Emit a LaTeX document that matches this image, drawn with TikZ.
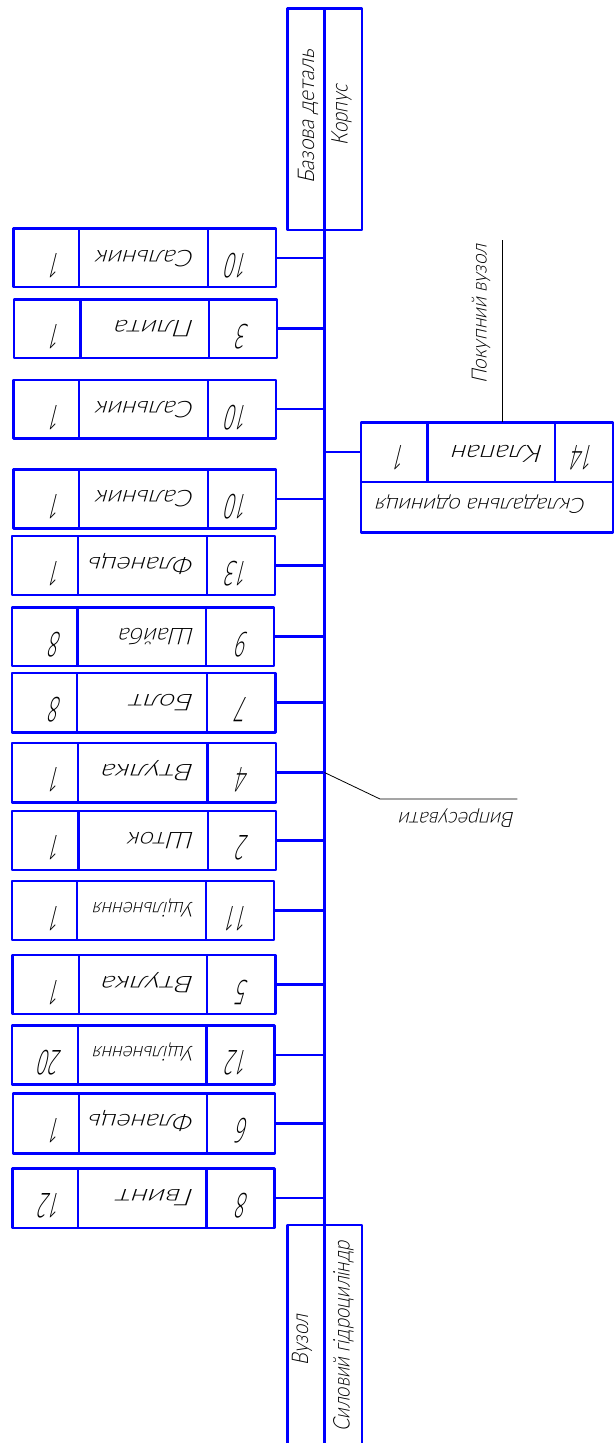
\documentclass[tikz,border=0pt]{standalone}
\usepackage{fontspec}
\usepackage{graphicx}
\IfFontExistsTF{Lato Light}
  {\newfontfamily\gostfont{Lato Light}[FakeSlant=0.25]}
  {\newfontfamily\gostfont{Liberation Sans}[FakeSlant=0.25]}
\IfFontExistsTF{Open Sans Light}
  {\newfontfamily\gostnum{Open Sans Light}[FakeSlant=0.25,FakeStretch=0.55]}
  {\newfontfamily\gostnum{Liberation Sans}[FakeSlant=0.25,FakeStretch=0.55]}
\definecolor{cadblue}{RGB}{0,0,255}
% set a text to a fixed width, keeping its height
\newcommand{\fitw}[2]{\resizebox{#1pt}{\height}{#2}}
\newcommand{\txtsz}[1]{\fontsize{#1}{#1}\selectfont}

\begin{document}
\begin{tikzpicture}[x=1pt,y=-1pt,
  cell/.style={draw=cadblue, line width=2.4pt, inner sep=0pt, outer sep=0pt, line join=round},
  link/.style={draw=cadblue, line width=2.4pt, line join=round},
  leader/.style={draw=black, line width=0.8pt},
  txt/.style={inner sep=0pt, outer sep=0pt, text=black},
  flip/.style={txt, rotate=180, anchor=base west},
  upw/.style={txt, rotate=90, anchor=base}]
\useasboundingbox (0,0) rectangle (614,1443);

% base part and the assembly axis
\node[cell, anchor=north, minimum width=74.4pt, minimum height=221.7pt] (base) at (324.5,8.3) {};
\coordinate (spine) at (324.5,0);
\coordinate (asm) at (324.5,1225);
\coordinate (asm-end) at (324.5,1443);
\draw[link] (base.north) -- (asm-end);
\node[upw] (base-t1) at (314,116.7) {\fitw{134}{\gostfont\txtsz{23}Базова деталь}};
\node[upw] (base-t2) at (347.5,115) {\fitw{60}{\gostfont\txtsz{23}Корпус}};

% finished unit at the bottom
\draw[link] (287.3,1443) -- (287.3,1225) -- (361.7,1225) -- (361.7,1443);
\node[upw] (asm-t1) at (308,1340) {\fitw{50}{\gostfont\txtsz{23}Вузол}};
\node[upw] (asm-t2) at (349.5,1336.7) {\fitw{190}{\gostfont\txtsz{23}Силовий гідроциліндр}};

% parts, top to bottom
\foreach \ky/\tp/\bt/\lf/\rt/\da/\db/\qt/\nm/\nw/\nf/\nn in {
  1/228.5/287/13.3/276/79/207.7/1/Сальник/98/23/10,
  2/299.3/357.7/14/276.7/80.3/209/1/Плита/79/23/3,
  3/380/438.3/13.3/276/79/207.7/1/Сальник/98/23/10,
  4/469.3/528.3/13.3/276/79/207.7/1/Сальник/98/23/10,
  5/536/594.7/12/275/77.7/206.7/1/Фланець/105/23/13,
  6/607.3/666/12/274/77.3/206/8/Шайба/75/23/9,
  7/672.7/732.3/11.8/275.3/77.2/207/8/Болт/64/23/7,
  8/742.7/802.3/12.2/276/78.2/207.5/1/Втулка/92/23/4,
  9/810.7/870/12.2/276/78.6/207.9/1/Шток/66/23/2,
  10/881/939.8/11.7/274/77/205.7/1/Ущільнення/101/20.5/11,
  11/955/1014/12.3/275.3/78.7/207/1/Втулка/92/23/5,
  12/1025.3/1084.3/12/274.3/78/206.3/20/Ущільнення/101/20.5/12,
  13/1093.3/1153.3/12.7/275/79/207/1/Фланець/105/23/6,
  14/1168.3/1227.7/12.3/274.3/77.7/206.3/12/Гвинт/77/23/8}{
  \pgfmathsetmacro{\bw}{\rt-\lf}
  \pgfmathsetmacro{\bh}{\bt-\tp}
  \node[cell, anchor=north west, minimum width=\bw pt, minimum height=\bh pt] (b\ky) at (\lf,\tp) {};
  \draw[link] (\da,\tp) -- (\da,\bt);
  \draw[link] (\db,\tp) -- (\db,\bt);
  \draw[link] (b\ky.east) -- (b\ky.east -| spine);
  \node[flip] (q\ky) at (62,\tp+25) {\gostnum\txtsz{34}\qt};
  \node[flip] (n\ky) at (195,\tp+21.6) {\fitw{\nw}{\gostfont\txtsz{\nf}\nm}};
  \node[flip] (p\ky) at (249,\tp+25) {\gostnum\txtsz{34}\nn};
}

% bought-in unit
\node[cell, anchor=north west, minimum width=251.8pt, minimum height=110pt] (pu) at (361,422.3) {};
\draw[link] (361,481.7) -- (612.8,481.7);
\draw[link] (427.3,422.3) -- (427.3,481.7);
\draw[link] (555,422.3) -- (555,481.7);
\coordinate (pu-in) at (361,452);
\draw[link] (pu-in -| spine) -- (pu-in);
\node[flip] (pu-q) at (406.7,445) {\gostnum\txtsz{34}1};
\node[flip] (pu-n) at (544,445) {\fitw{91}{\gostfont\txtsz{24}Клапан}};
\node[flip] (pu-p) at (595,445) {\gostnum\txtsz{34}14};
\node[flip] (pu-k) at (586.7,498) {\fitw{210}{\gostfont\txtsz{21}Складальна одиниця}};
\coordinate (pu-lead) at (502.3,422.3);
\coordinate (pu-tag) at (502.3,240);
\draw[leader] (pu-lead) -- (pu-tag);
\node[upw] (pu-t) at (486.5,314) {\fitw{139}{\gostfont\txtsz{21}Покупний вузол}};

% press-fit note
\coordinate (press-bend) at (380,799);
\coordinate (press-end) at (517.3,799);
\draw[leader] (b8.east -| spine) -- (press-bend) -- (press-end);
\node[flip] (press-t) at (515,812.5) {\fitw{115}{\gostfont\txtsz{21}Випресувати}};
\end{tikzpicture}
\end{document}
